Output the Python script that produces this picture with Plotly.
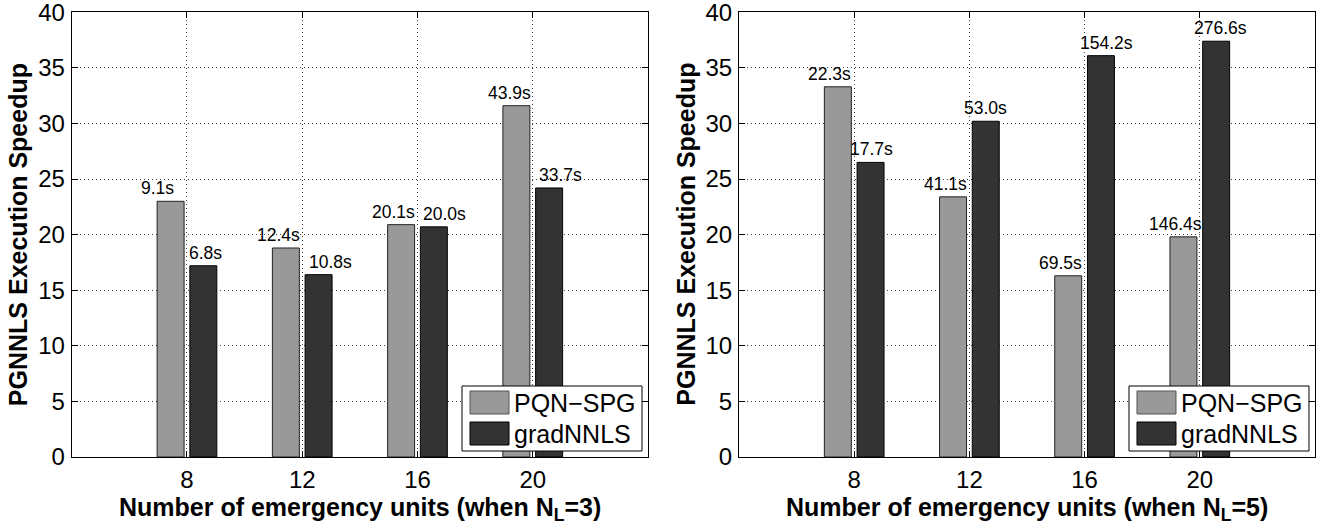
import plotly.graph_objects as go
from plotly.subplots import make_subplots

# ---- data ----
units = ["8", "12", "16", "20"]

# N_L = 3
speedup_pqn_3 = [23.0, 18.8, 20.9, 31.6]
speedup_grad_3 = [17.2, 16.4, 20.7, 24.2]
time_pqn_3 = [9.1, 12.4, 20.1, 43.9]
time_grad_3 = [6.8, 10.8, 20.0, 33.7]

# N_L = 5
speedup_pqn_5 = [33.3, 23.4, 16.3, 19.8]
speedup_grad_5 = [26.5, 30.2, 36.1, 37.4]
time_pqn_5 = [22.3, 41.1, 69.5, 146.4]
time_grad_5 = [17.7, 53.0, 154.2, 276.6]

nl_values = [3, 5]
series_names = ["PQN\u2212SPG", "gradNNLS"]

# ---- style ----
W, H = 1322, 525
FONT = "Liberation Sans, Arial, Helvetica, sans-serif"
C_LIGHT = "#999999"
C_DARK = "#333333"
BARGAP = 0.432
BARGROUPGAP = 0.176
X_DOMAINS = [[0.05424, 0.49017], [0.55900, 0.99470]]
Y_DOMAIN = [0.12952, 0.97657]
# horizontal pixel nudges for the time labels, per panel
NUDGE_PQN = [[-13, -7, -8, -7], [-8, -8, -8, -8]]
NUDGE_GRAD = [[2, 12, 11, 11], [1, 0, 6, 4]]

fig = make_subplots(rows=1, cols=2)

panels = [
    (speedup_pqn_3, speedup_grad_3, time_pqn_3, time_grad_3),
    (speedup_pqn_5, speedup_grad_5, time_pqn_5, time_grad_5),
]

half = (1 - BARGAP) / 4.0  # offset of each bar center from category center

annotations = []
shapes = []
for p, (s_pqn, s_grad, t_pqn, t_grad) in enumerate(panels):
    col = p + 1
    xr = "x" if p == 0 else "x2"
    yr = "y" if p == 0 else "y2"
    fig.add_trace(go.Bar(x=units, y=s_pqn, name=series_names[0],
                         marker=dict(color=C_LIGHT, line=dict(color="#222222", width=1)),
                         showlegend=False), row=1, col=col)
    fig.add_trace(go.Bar(x=units, y=s_grad, name=series_names[1],
                         marker=dict(color=C_DARK, line=dict(color="#000000", width=1)),
                         showlegend=False), row=1, col=col)

    # time labels above bars
    for i in range(len(units)):
        annotations.append(dict(x=i - half, y=s_pqn[i], xref=xr, yref=yr,
                                text=f"{t_pqn[i]:.1f}s", showarrow=False,
                                xanchor="center", yanchor="bottom", yshift=1,
                                xshift=NUDGE_PQN[p][i],
                                font=dict(family=FONT, size=17.5, color="black")))
        annotations.append(dict(x=i + half, y=s_grad[i], xref=xr, yref=yr,
                                text=f"{t_grad[i]:.1f}s", showarrow=False,
                                xanchor="center", yanchor="bottom", yshift=1,
                                xshift=NUDGE_GRAD[p][i],
                                font=dict(family=FONT, size=17.5, color="black")))

    # axis titles
    x0, x1 = X_DOMAINS[p]
    xc = (x0 + x1) / 2
    annotations.append(dict(x=xc, y=1 - 491 / H, xref="paper", yref="paper",
                            text=f"<b>Number of emergency units (when N<sub>L</sub>={nl_values[p]})</b>",
                            showarrow=False, xanchor="center", yanchor="top",
                            font=dict(family=FONT, size=25, color="black")))
    ytx = [17.5, 686][p] / W
    annotations.append(dict(x=ytx, y=(Y_DOMAIN[0] + Y_DOMAIN[1]) / 2, xref="paper", yref="paper",
                            text="<b>PGNNLS Execution Speedup</b>", textangle=-90,
                            showarrow=False, xanchor="center", yanchor="middle",
                            font=dict(family=FONT, size=25, color="black")))

    # boxed legend in the lower right corner
    dx = xr + " domain"
    dy = yr + " domain"
    pw = (x1 - x0) * W
    ph = (Y_DOMAIN[1] - Y_DOMAIN[0]) * H
    bx0 = 1 - 186 / pw
    bx1 = 1 - 6 / pw
    by0 = 6 / ph
    by1 = 71 / ph
    shapes.append(dict(type="rect", xref=dx, yref=dy, x0=bx0, x1=bx1, y0=by0, y1=by1,
                       line=dict(color="black", width=1), fillcolor="white", layer="above"))
    sw_x0 = bx0 + 8 / pw
    sw_x1 = bx0 + 47 / pw
    rows_y = [(43 / ph, 66 / ph), (12 / ph, 35 / ph)]
    fills = [(C_LIGHT, "#555555"), (C_DARK, "#000000")]
    for k in range(2):
        shapes.append(dict(type="rect", xref=dx, yref=dy, x0=sw_x0, x1=sw_x1,
                           y0=rows_y[k][0], y1=rows_y[k][1],
                           line=dict(color=fills[k][1], width=1), fillcolor=fills[k][0],
                           layer="above"))
        annotations.append(dict(x=bx0 + 50 / pw, y=(rows_y[k][0] + rows_y[k][1]) / 2,
                                xref=dx, yref=dy, text=series_names[k], showarrow=False,
                                xanchor="left", yanchor="middle",
                                font=dict(family=FONT, size=25, color="black")))

axis_common = dict(
    showline=True, linecolor="black", linewidth=1, mirror="allticks",
    ticks="inside", ticklen=6, tickcolor="black", tickwidth=1,
    showgrid=True, gridcolor="#444444", griddash="1px,3px", gridwidth=1,
    zeroline=False, ticklabeloverflow="allow", automargin=False,
    tickfont=dict(family=FONT, size=24, color="black"),
)

for p in range(2):
    xa = "xaxis" if p == 0 else "xaxis2"
    ya = "yaxis" if p == 0 else "yaxis2"
    fig.update_layout({
        xa: dict(axis_common, type="category", range=[-1, len(units)],
                 domain=X_DOMAINS[p], ticklabelstandoff=1),
        ya: dict(axis_common, range=[0, 40], tick0=0, dtick=5, domain=Y_DOMAIN,
                 ticklabelstandoff=1),
    })

fig.update_layout(
    width=W, height=H,
    margin=dict(l=0, r=0, t=0, b=0, autoexpand=False),
    paper_bgcolor="white", plot_bgcolor="white",
    barmode="group", bargap=BARGAP, bargroupgap=BARGROUPGAP,
    showlegend=False,
    annotations=annotations, shapes=shapes,
    font=dict(family=FONT, color="black"),
)

fig.write_html("out.html")
